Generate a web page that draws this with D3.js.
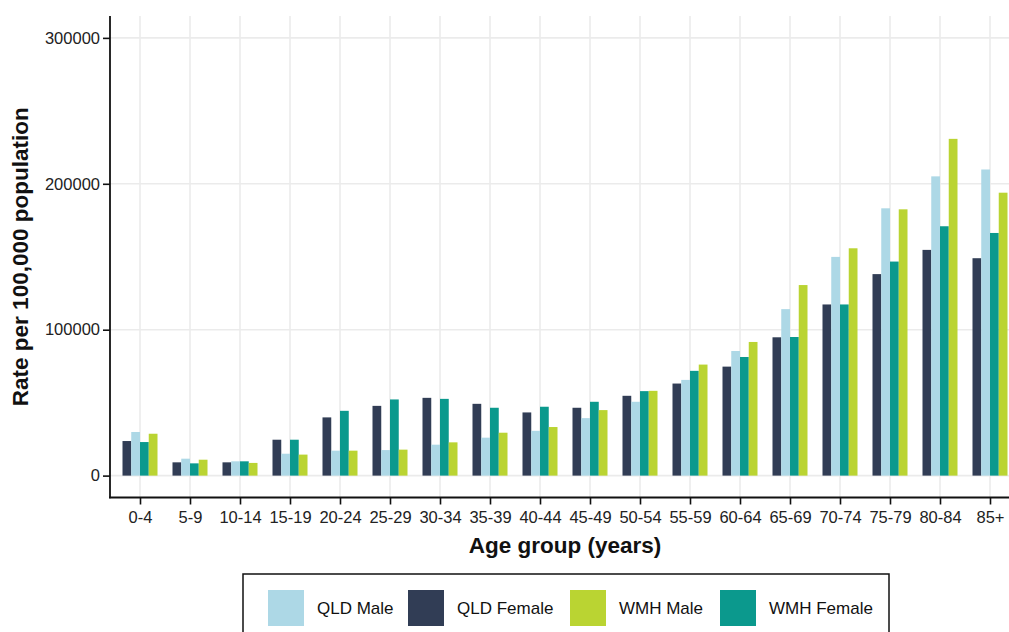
<!DOCTYPE html>
<html>
<head>
<meta charset="utf-8">
<script src="https://cdn.jsdelivr.net/npm/d3@7"></script>
<style>
  html, body { margin: 0; padding: 0; background: #fff; }
  svg { display: block; font-family: "Liberation Sans", Arial, sans-serif; }
</style>
</head>
<body>
<svg id="chart" width="1009" height="632"></svg>
<script>
const categories = ["0-4","5-9","10-14","15-19","20-24","25-29","30-34","35-39","40-44","45-49","50-54","55-59","60-64","65-69","70-74","75-79","80-84","85+"];
const qldMale   = [29900, 11600, 9800, 15000, 17100, 17500, 21200, 26000, 30700, 39400, 50600, 65600, 85400, 114100, 149900, 183200, 205100, 209800];
const qldFemale = [23700, 9100, 9100, 24600, 39900, 47800, 53300, 49200, 43300, 46500, 54700, 63100, 74700, 94800, 117300, 138100, 154700, 149000];
const wmhMale   = [28700, 10900, 8700, 14400, 17100, 17800, 22800, 29400, 33300, 44900, 58100, 76100, 91600, 130600, 155800, 182500, 230800, 193900];
const wmhFemale = [23000, 8400, 9800, 24600, 44400, 52200, 52600, 46500, 47200, 50600, 57900, 71800, 81300, 95000, 117300, 146700, 170900, 166300];
const yTicks = [0, 100000, 200000, 300000];
const yTickLabels = ["0", "100000", "200000", "300000"];
const seriesNames = ["QLD Male", "QLD Female", "WMH Male", "WMH Female"];
const seriesColors = ["#add8e6", "#313d55", "#bad432", "#0b998d"];
// drawing order within each group
const barOrder = ["QLD Female", "QLD Male", "WMH Female", "WMH Male"];

const seriesData = {
  "QLD Male": qldMale,
  "QLD Female": qldFemale,
  "WMH Male": wmhMale,
  "WMH Female": wmhFemale
};
const colorOf = d3.scaleOrdinal().domain(seriesNames).range(seriesColors);

const svg = d3.select("#chart");
const panel = { left: 110, right: 1020, top: 16, bottom: 497.5 };

const x = d3.scalePoint().domain(categories).range([panel.left, panel.right]).padding(0.6);
const step = x.step();
const xInner = d3.scaleBand().domain(barOrder).range([-step * 0.35, step * 0.35]).padding(0);
const y = d3.scaleLinear().domain([-15000, 315000]).range([panel.bottom, panel.top]);

const grid = svg.append("g");
grid.selectAll("line.h").data(yTicks).join("line")
  .attr("x1", panel.left).attr("x2", panel.right)
  .attr("y1", d => y(d)).attr("y2", d => y(d))
  .attr("stroke", "#ebebeb").attr("stroke-width", 1.6);
grid.selectAll("line.v").data(categories).join("line")
  .attr("x1", d => x(d)).attr("x2", d => x(d))
  .attr("y1", panel.top).attr("y2", panel.bottom)
  .attr("stroke", "#ebebeb").attr("stroke-width", 1.6);

const rows = [];
categories.forEach((c, i) => {
  barOrder.forEach(s => rows.push({ cat: c, series: s, value: seriesData[s][i] }));
});

svg.append("g").selectAll("rect").data(rows).join("rect")
  .attr("x", d => x(d.cat) + xInner(d.series))
  .attr("width", xInner.bandwidth())
  .attr("y", d => y(d.value))
  .attr("height", d => y(0) - y(d.value))
  .attr("fill", d => colorOf(d.series));

// Axes
const yAxis = d3.axisLeft(y).tickValues(yTicks).tickFormat((d, i) => yTickLabels[i]).tickSize(7).tickSizeOuter(0);
const gy = svg.append("g").attr("transform", `translate(${panel.left},0)`).call(yAxis);
gy.select(".domain").remove();
gy.selectAll(".tick line").attr("stroke", "#111").attr("stroke-width", 1.6);
gy.selectAll(".tick text").attr("font-size", "16.5px").attr("fill", "#222").attr("x", -10)
  .attr("font-family", "Liberation Sans, Arial, sans-serif");

const xAxis = d3.axisBottom(x).tickSize(7).tickSizeOuter(0);
const gx = svg.append("g").attr("transform", `translate(0,${panel.bottom})`).call(xAxis);
gx.select(".domain").remove();
gx.selectAll(".tick line").attr("stroke", "#111").attr("stroke-width", 1.6);
gx.selectAll(".tick text").attr("font-size", "16.5px").attr("fill", "#222").attr("y", 14)
  .attr("font-family", "Liberation Sans, Arial, sans-serif");

svg.append("line").attr("x1", panel.left).attr("x2", panel.left)
  .attr("y1", panel.top).attr("y2", panel.bottom + 0.8)
  .attr("stroke", "#111").attr("stroke-width", 1.8);
svg.append("line").attr("x1", panel.left - 0.9).attr("x2", panel.right)
  .attr("y1", panel.bottom).attr("y2", panel.bottom)
  .attr("stroke", "#111").attr("stroke-width", 1.8);

// Axis titles
svg.append("text")
  .attr("transform", `translate(28,${(panel.top + panel.bottom) / 2}) rotate(-90)`)
  .attr("text-anchor", "middle").attr("font-weight", "bold").attr("font-size", "22.5px").attr("fill", "#111")
  .text("Rate per 100,000 population");
svg.append("text")
  .attr("x", (panel.left + panel.right) / 2).attr("y", 553)
  .attr("text-anchor", "middle").attr("font-weight", "bold").attr("font-size", "22.5px").attr("fill", "#111")
  .text("Age group (years)");

// Legend
const lg = svg.append("g");
lg.append("rect").attr("x", 243).attr("y", 574).attr("width", 646).attr("height", 80)
  .attr("fill", "#fff").attr("stroke", "#111").attr("stroke-width", 1.5);
const keyX = [268, 408, 570, 720];
seriesNames.forEach((s, i) => {
  lg.append("rect").attr("x", keyX[i]).attr("y", 590).attr("width", 36).attr("height", 36)
    .attr("fill", colorOf(s));
  lg.append("text").attr("x", keyX[i] + 49).attr("y", 614).attr("font-size", "17px").attr("fill", "#111")
    .text(s);
});
</script>
</body>
</html>
